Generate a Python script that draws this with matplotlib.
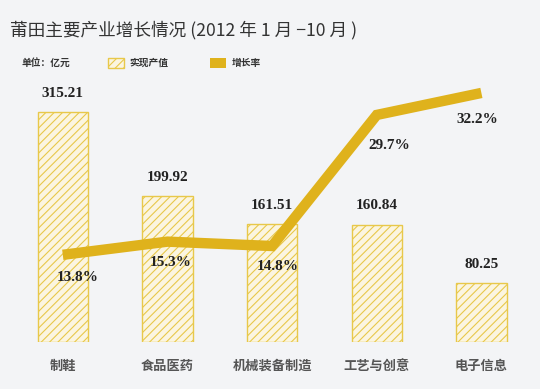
import matplotlib
matplotlib.use("Agg")
import matplotlib.pyplot as plt
from matplotlib.patches import Rectangle

plt.rcParams['font.family'] = ['Noto Sans CJK SC', 'DejaVu Sans']
plt.rcParams['hatch.color'] = '#e6c443'
plt.rcParams['hatch.linewidth'] = 0.8

# ── Data ──────────────────────────────────────────────────────
categories = ["制鞋", "食品医药", "机械装备制造", "工艺与创意", "电子信息"]
output_value = [315.21, 199.92, 161.51, 160.84, 80.25]   # 亿元
growth_rate = [13.8, 15.3, 14.8, 29.7, 32.2]             # %

BG = '#f3f4f6'
GOLD = '#dfb21c'
EDGE = '#e8c84a'
FACE = '#fbf5e0'

fig = plt.figure(figsize=(5.4, 3.89), dpi=100)
fig.patch.set_facecolor(BG)

ax = fig.add_axes([0, 0.121, 1, 0.674])
ax.set_facecolor(BG)
x = list(range(len(categories)))
ax.bar(x, output_value, width=0.48, color=FACE, edgecolor=EDGE,
       hatch='////', linewidth=1.0, zorder=2)
ax.set_xlim(-0.6, 4.56)
ax.set_ylim(0, 360)
ax.axis('off')

for xi, v in zip(x, output_value):
    ax.annotate(f"{v:.2f}", (xi, v), xytext=(0, 9), textcoords='offset points',
                ha='center', va='bottom', fontsize=11, fontweight='bold',
                family='Liberation Serif', color='#222222')

for xi, c in zip(x, categories):
    ax.annotate(c, (xi, 0), xytext=(0, -17), textcoords='offset points',
                ha='center', va='center', fontsize=9.5, color='#555555',
                fontweight='bold')

ax2 = ax.twinx()
ax2.set_position(ax.get_position())
ax2.set_ylim(3.9, 33.7)
ax2.axis('off')
ax2.plot(x, growth_rate, color=GOLD, linewidth=7.5, solid_joinstyle='miter',
         solid_capstyle='butt', zorder=3)
offsets = [(11, -16), (2, -15), (4, -15), (9, -22), (-3, -19)]
for xi, v, off in zip(x, growth_rate, offsets):
    ax2.annotate(f"{v:.1f}%", (xi, v), xytext=off, textcoords='offset points',
                 ha='center', va='center', fontsize=11, fontweight='bold',
                 family='Liberation Serif', color='#222222')

# ── Title and legend row ──────────────────────────────────────
fig.text(0.018, 0.922, "莆田主要产业增长情况 (2012 年 1 月 −10 月 )",
         fontsize=12.7, color='#333333', va='center', ha='left')
fig.text(0.04, 0.838, "单位：亿元", fontsize=7, color='#333333',
         fontweight='bold', va='center')
fig.patches.append(Rectangle((0.200, 0.825), 0.030, 0.027, transform=fig.transFigure,
                             facecolor=FACE, edgecolor=EDGE, hatch='////',
                             linewidth=1.0))
fig.text(0.240, 0.838, "实现产值", fontsize=7, color='#333333',
         fontweight='bold', va='center')
fig.patches.append(Rectangle((0.389, 0.825), 0.030, 0.027, transform=fig.transFigure,
                             facecolor=GOLD, edgecolor='none'))
fig.text(0.430, 0.838, "增长率", fontsize=7, color='#333333',
         fontweight='bold', va='center')

fig.savefig("out.png", dpi=100, facecolor=BG)
